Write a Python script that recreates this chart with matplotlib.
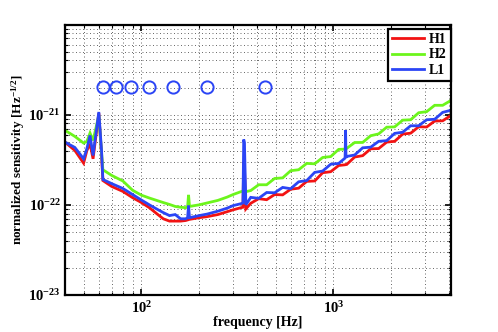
import matplotlib
matplotlib.use("Agg")
import matplotlib.pyplot as plt
from matplotlib.ticker import FixedLocator, FixedFormatter, LogLocator, NullFormatter

# ---------------- data (values in units of 1e-22 Hz^-1/2) ----------------
freq = [40, 45, 50, 52, 54, 56, 60, 62, 63,
        70, 80, 90, 100, 110, 120, 130, 140, 150, 160, 170,
        174, 176, 178,
        200, 220, 250, 280, 300, 330,
        338, 341, 344, 350,
        371,
        408, 449, 494, 544, 599, 659, 726, 799, 879, 968, 1065,
        1150, 1157, 1163,
        1172, 1290, 1420, 1563, 1720, 1894, 2084, 2294, 2525, 2779, 3059, 3367, 3706, 4096]

h1 = [4.96, 4.01, 2.90, 4.0, 4.76, 3.24, 10.4, 3.53, 1.86,
      1.60, 1.41, 1.20, 1.06, 0.93, 0.80, 0.70, 0.66, 0.66, 0.66, 0.67,
      0.68, 0.74, 0.69,
      0.72, 0.74, 0.78, 0.84, 0.88, 0.93,
      0.94, 3.0, 2.6, 0.90,
      1.04,
      1.17, 1.14, 1.30, 1.29, 1.49, 1.53, 1.82, 1.84, 2.27, 2.33, 2.73,
      2.78, 2.80, 2.80,
      2.80, 3.39, 3.51, 4.18, 4.21, 4.96, 5.06, 6.09, 6.23, 7.34, 7.30, 8.49, 8.55, 9.82]

h2 = [6.70, 5.74, 4.84, 5.05, 6.25, 5.18, 9.8, 3.81, 2.45,
      2.12, 1.84, 1.45, 1.28, 1.19, 1.12, 1.06, 1.01, 0.96, 0.94, 0.93,
      0.95, 1.29, 0.96,
      1.00, 1.05, 1.12, 1.22, 1.30, 1.40,
      1.42, 1.45, 1.43, 1.40,
      1.44,
      1.67, 1.67, 1.96, 1.99, 2.39, 2.45, 2.88, 2.85, 3.35, 3.43, 4.12,
      4.15, 4.18, 4.18,
      4.22, 4.91, 4.92, 5.84, 6.12, 7.26, 7.32, 8.69, 8.78, 10.5, 10.8, 12.7, 12.7, 14.4]

l1 = [4.96, 4.33, 3.24, 4.2, 5.89, 3.53, 10.7, 4.0, 1.91,
      1.72, 1.52, 1.30, 1.13, 1.00, 0.90, 0.82, 0.76, 0.78, 0.70, 0.70,
      0.72, 0.98, 0.72,
      0.76, 0.79, 0.85, 0.92, 0.98, 1.03,
      1.05, 5.3, 4.9, 1.00,
      1.21,
      1.18, 1.37, 1.36, 1.56, 1.51, 1.80, 1.86, 2.29, 2.37, 2.82, 2.88,
      3.3, 6.7, 3.35,
      3.44, 3.57, 4.29, 4.36, 5.06, 5.15, 6.20, 6.39, 7.53, 7.53, 8.78, 8.89, 10.6, 11.2]

marker_freq = [63, 73.5, 88, 109.5, 146, 220.6, 438.6]
marker_level = 2.05  # in units of 1e-21

series_labels = ["H1", "H2", "L1"]
series_colors = ["#f21313", "#6cf51c", "#2b45f5"]

y_ticks = [1e-23, 1e-22, 1e-21]
y_ticklabels = [r"$\mathrm{10^{-23}}$", r"$\mathrm{10^{-22}}$", r"$\mathrm{10^{-21}}$"]
x_ticks = [100, 1000]
x_ticklabels = [r"$\mathrm{10^{2}}$", r"$\mathrm{10^{3}}$"]

# ---------------- style ----------------
plt.rcParams["font.family"] = ["Liberation Serif", "DejaVu Serif"]
plt.rcParams["font.weight"] = "bold"
plt.rcParams["mathtext.fontset"] = "custom"
plt.rcParams["mathtext.rm"] = "Liberation Serif:bold"
plt.rcParams["mathtext.bf"] = "Liberation Serif:bold"
plt.rcParams["mathtext.it"] = "Liberation Serif:italic:bold"

fig = plt.figure(figsize=(4.98, 3.32), dpi=100)
ax = fig.add_axes([65 / 498, 1 - 295 / 332, (451 - 65) / 498, (295 - 24.5) / 332])

scale = 1e-22
for vals, lab, col in zip([h1, h2, l1], series_labels, series_colors):
    ax.plot(freq, [v * scale for v in vals], color=col, lw=2.0, label=lab,
            solid_joinstyle="miter")

ax.plot(marker_freq, [marker_level * 1e-21] * len(marker_freq), linestyle="none",
        marker="o", markersize=8.8, markerfacecolor="none",
        markeredgecolor=series_colors[2], markeredgewidth=1.4)

ax.set_xscale("log")
ax.set_yscale("log")
ax.set_xlim(40, 4096)
ax.set_ylim(1e-23, 1e-20)

ax.yaxis.set_major_locator(FixedLocator(y_ticks))
ax.yaxis.set_major_formatter(FixedFormatter(y_ticklabels))
ax.xaxis.set_major_locator(FixedLocator(x_ticks))
ax.xaxis.set_major_formatter(FixedFormatter(x_ticklabels))
ax.yaxis.set_minor_locator(LogLocator(base=10, subs=range(2, 10), numticks=20))
ax.xaxis.set_minor_locator(LogLocator(base=10, subs=range(2, 10), numticks=20))
ax.xaxis.set_minor_formatter(NullFormatter())
ax.yaxis.set_minor_formatter(NullFormatter())

ax.tick_params(which="both", direction="in", top=True, right=True, labelsize=10.5)
ax.tick_params(which="major", length=4, width=1.2)
ax.tick_params(which="minor", length=2.2, width=0.8)
ax.tick_params(axis="x", pad=4)
ax.tick_params(axis="y", pad=3)

ax.grid(True, which="both", linestyle=(0, (1, 2.6)), color="#666666", linewidth=0.7)
for s in ax.spines.values():
    s.set_linewidth(1.6)

ax.set_xlabel("frequency [Hz]", fontsize=10, fontweight="bold", labelpad=0)
ax.set_ylabel(r"normalized sensitivity [Hz$^{\mathrm{-1/2}}$]", fontsize=9.5,
              fontweight="bold", labelpad=1)

leg = ax.legend(loc="upper right", bbox_to_anchor=(1.0, 1 - 4 / 270.5),
                borderaxespad=0, fancybox=False, framealpha=1, edgecolor="black",
                prop={"weight": "bold", "size": 10}, handlelength=2.3,
                handletextpad=0.35, borderpad=0.3, labelspacing=0.2)
leg.get_frame().set_linewidth(1.6)

fig.savefig("out.png", dpi=100)
